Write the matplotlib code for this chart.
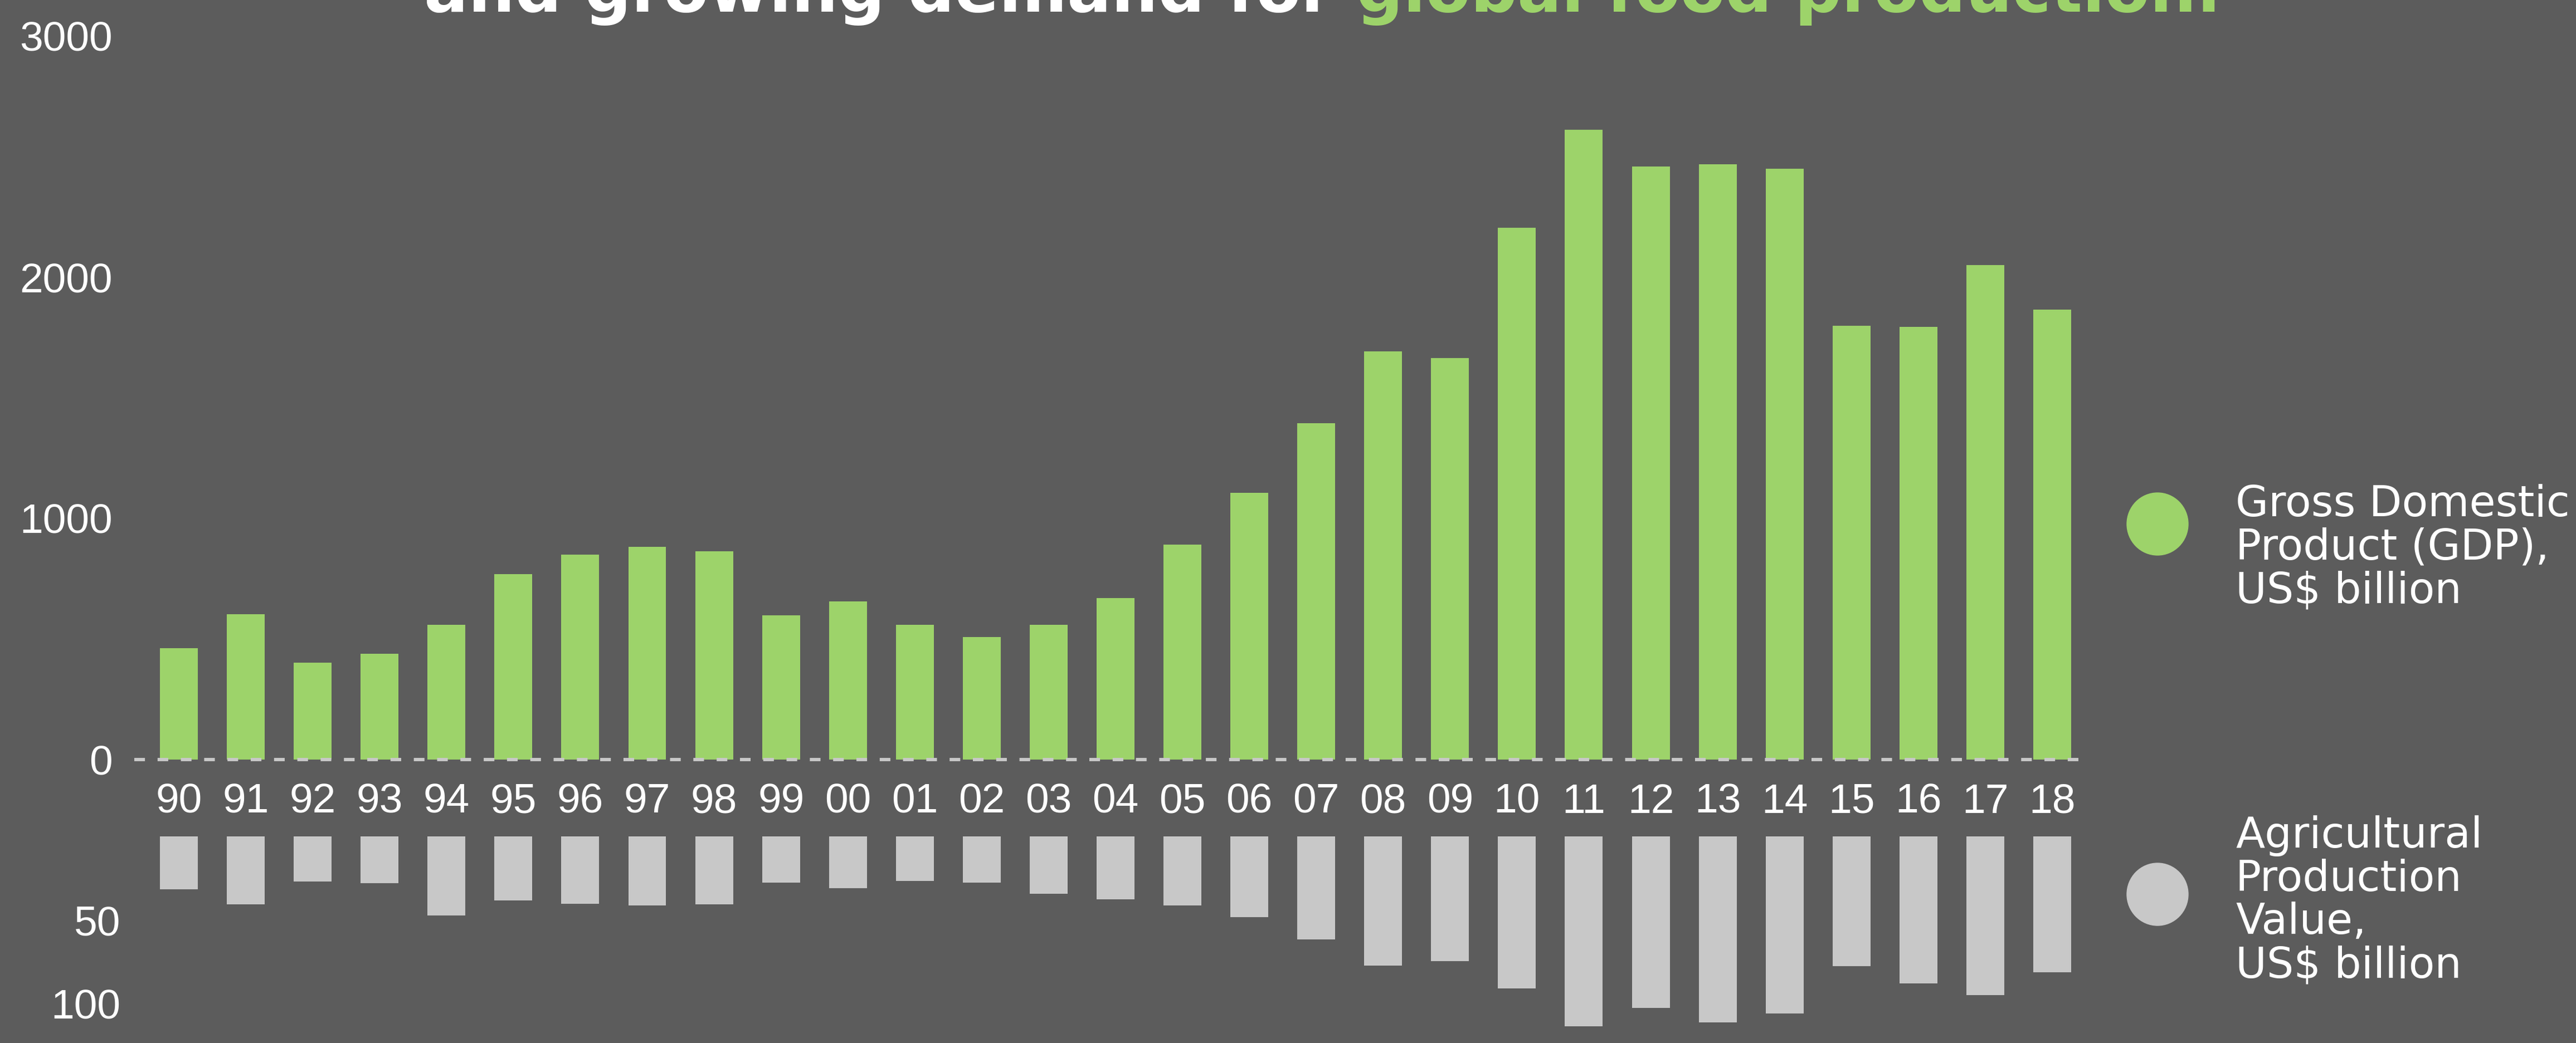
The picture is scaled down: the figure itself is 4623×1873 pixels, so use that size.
import matplotlib.pyplot as plt
from matplotlib.patches import Ellipse

# Data
years = ['90', '91', '92', '93', '94', '95', '96', '97', '98', '99',
         '00', '01', '02', '03', '04', '05', '06', '07', '08', '09',
         '10', '11', '12', '13', '14', '15', '16', '17', '18']
gdp = [462, 603, 402, 439, 559, 769, 850, 882, 864, 598,
       656, 559, 508, 559, 670, 891, 1106, 1395, 1693, 1665,
       2206, 2612, 2460, 2469, 2450, 1799, 1794, 2051, 1866]
agri = [31.7, 40.7, 27.0, 28.0, 47.3, 38.3, 40.3, 41.3, 40.7, 27.7,
        31.0, 26.7, 27.7, 34.3, 37.7, 41.3, 48.3, 61.7, 77.3, 74.7,
        91.0, 113.7, 102.7, 111.3, 106.0, 77.7, 88.0, 95.0, 81.3]
gdp_ticks = [0, 1000, 2000, 3000]
agri_ticks = [50, 100]
title_white = 'and growing demand for'
title_green = 'global food production.'
legend_gdp = ['Gross Domestic', 'Product (GDP),', 'US$ billion']
legend_agri = ['Agricultural', 'Production', 'Value,', 'US$ billion']

BG = '#5c5c5c'
GREEN = '#9dd36a'
GRAY = '#c8c8c8'

plt.rcParams['font.family'] = ['Liberation Sans', 'DejaVu Sans']

W, H = 4623, 1873
fig = plt.figure(figsize=(W / 100, H / 100), dpi=100, facecolor=BG)

x = list(range(len(years)))
step = 120.07          # px between bars
x0 = 321               # px of first bar centre
left, right = 230, 3800
xlim = ((left - x0) / step, (right - x0) / step)

# GDP panel
ax = fig.add_axes([left / W, (H - 1364) / H, (right - left) / W, 1364 / H])
ax.set_facecolor('none')
ax.bar(x, gdp, width=0.566, color=GREEN, zorder=2)
ax.plot([(241 - x0) / step, (3745 - x0) / step], [0, 0], color=GRAY, lw=4.3,
        dashes=(3.2, 3.8), dash_capstyle='butt', clip_on=False, zorder=3)
ax.set_xlim(*xlim)
ax.set_ylim(0, 1364 / 0.433)
ax.set_yticks(gdp_ticks, labels=[str(t) for t in gdp_ticks])
ax.set_xticks(x, labels=years)
ax.tick_params(axis='y', length=0, pad=20, labelsize=54, labelcolor='white')
ax.tick_params(axis='x', length=0, pad=30, labelsize=54, labelcolor='white')
for s in ax.spines.values():
    s.set_visible(False)

# Agricultural panel (hangs down)
ax2 = fig.add_axes([left / W, 0, (right - left) / W, (H - 1502) / H])
ax2.set_facecolor('none')
ax2.bar(x, agri, width=0.566, color=GRAY)
ax2.set_xlim(*xlim)
ax2.set_ylim((H - 1502) / 3.0, 0)
ax2.set_xticks([])
ax2.set_yticks(agri_ticks, labels=[str(t) for t in agri_ticks])
ax2.tick_params(axis='y', length=0, pad=10, labelsize=54, labelcolor='white')
for s in ax2.spines.values():
    s.set_visible(False)

# Legend
fig.add_artist(Ellipse((3872 / W, 1 - 941 / H), 110 / W, 112 / H,
                       transform=fig.transFigure, color=GREEN))
fig.add_artist(Ellipse((3872 / W, 1 - 1606 / H), 110 / W, 112 / H,
                       transform=fig.transFigure, color=GRAY))
for i, line in enumerate(legend_gdp):
    fig.text(4012 / W, 1 - (927 + 77.5 * i) / H, line, color='white',
             fontsize=55, family='DejaVu Sans', va='baseline', parse_math=False)
for i, line in enumerate(legend_agri):
    fig.text(4012 / W, 1 - (1522 + 77.7 * i) / H, line, color='white',
             fontsize=55, family='DejaVu Sans', va='baseline', parse_math=False)

# Title (cut off by the top edge)
renderer = fig.canvas.get_renderer()
probe = fig.text(0, 0, title_white + ' ' + title_green, fontsize=75,
                 family='DejaVu Sans', weight='bold')
full_w = probe.get_window_extent(renderer).width
probe.remove()
size = 75 * 3225 / full_w
probe = fig.text(0, 0, title_white + ' ' + title_green, fontsize=size,
                 family='DejaVu Sans', weight='bold')
full_w = probe.get_window_extent(renderer).width
probe.remove()
ty = 1 - 21 / H
fig.text(761 / W, ty, title_white, fontsize=size, family='DejaVu Sans',
         weight='bold', color='white', va='baseline', ha='left')
fig.text((761 + full_w) / W, ty, title_green, fontsize=size, family='DejaVu Sans',
         weight='bold', color=GREEN, va='baseline', ha='right')

fig.savefig('out.png', dpi=100, facecolor=BG)
